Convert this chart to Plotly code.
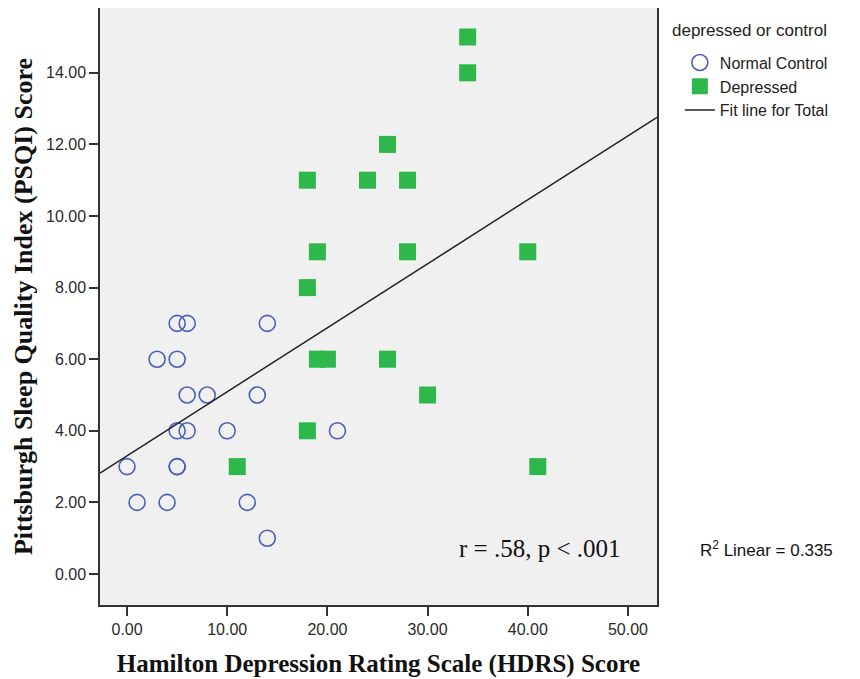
import numpy as np
import plotly.graph_objects as go

# ---- data ----
control_hdrs = [5, 6, 14, 3, 5, 6, 8, 13, 5, 6, 10, 21, 0, 5, 5, 1, 4, 12, 14]
control_psqi = [7, 7, 7, 6, 6, 5, 5, 5, 4, 4, 4, 4, 3, 3, 3, 2, 2, 2, 1]

depressed_hdrs = [34, 34, 26, 18, 24, 28, 19, 28, 40, 18, 19, 20, 26, 30, 18, 41, 11]
depressed_psqi = [15, 14, 12, 11, 11, 11, 9, 9, 9, 8, 6, 6, 6, 5, 4, 3, 3]

x_ticks = [0, 10, 20, 30, 40, 50]
y_ticks = [0, 2, 4, 6, 8, 10, 12, 14]

X_RANGE = [-2.7, 52.9]
Y_RANGE = [-0.866, 15.81]

# fit line for total
all_x = np.array(control_hdrs + depressed_hdrs, dtype=float)
all_y = np.array(control_psqi + depressed_psqi, dtype=float)
slope, intercept = np.polyfit(all_x, all_y, 1)
fit_x = np.array(X_RANGE)
fit_y = intercept + slope * fit_x

SANS = "Arial, Liberation Sans, sans-serif"
SERIF = "Times New Roman, Liberation Serif, serif"

fig = go.Figure()
fig.add_trace(go.Scatter(
    x=control_hdrs, y=control_psqi, mode="markers", name="Normal Control",
    marker=dict(symbol="circle-open", size=16, color="#4a60b8", line=dict(width=1.6)),
))
fig.add_trace(go.Scatter(
    x=depressed_hdrs, y=depressed_psqi, mode="markers", name="Depressed",
    marker=dict(symbol="square", size=17, color="#2eb84b", line=dict(width=0)),
))
fig.add_trace(go.Scatter(
    x=fit_x, y=fit_y, mode="lines", name="Fit line for Total",
    line=dict(color="#222222", width=1.5),
))

# the page body has an 8px default margin, so the figure is 8px smaller
fig.update_layout(
    width=852, height=671,
    margin=dict(l=92, r=203, t=0, b=74),
    paper_bgcolor="white",
    plot_bgcolor="#f0f0f0",
    showlegend=True,
    legend=dict(
        x=1.041, xanchor="left", y=0.937, yanchor="top",
        font=dict(family=SANS, size=16, color="#222222"),
        bgcolor="rgba(0,0,0,0)", tracegroupgap=0, itemwidth=30,
    ),
    xaxis=dict(
        range=X_RANGE, tickvals=x_ticks, tickformat=".2f", automargin=False,
        showgrid=False, zeroline=False,
        showline=True, mirror=True, linecolor="#333333", linewidth=1.5,
        ticks="outside", ticklen=9, tickwidth=1.5, tickcolor="#333333",
        tickfont=dict(family=SANS, size=16, color="#2a2a2a"),
        title=dict(text="Hamilton Depression Rating Scale (HDRS) Score",
                   font=dict(family=SERIF, size=25, color="#111111", weight="bold"),
                   standoff=18),
    ),
    yaxis=dict(
        range=Y_RANGE, tickvals=y_ticks, tickformat=".2f", automargin=False,
        showgrid=False, zeroline=False,
        showline=True, mirror=True, linecolor="#333333", linewidth=1.5,
        ticks="outside", ticklen=9, tickwidth=1.5, tickcolor="#333333",
        tickfont=dict(family=SANS, size=16, color="#2a2a2a"),
        title=dict(text="Pittsburgh Sleep Quality Index (PSQI) Score",
                   font=dict(family=SERIF, size=26, color="#111111", weight="bold"),
                   standoff=6),
    ),
    annotations=[
        dict(text="depressed or control", xref="paper", yref="paper",
             x=1.023, y=0.963, xanchor="left", yanchor="middle", showarrow=False,
             font=dict(family=SANS, size=17, color="#222222")),
        dict(text="r = .58, p < .001", xref="x", yref="y",
             x=41.2, y=0.7, xanchor="center", yanchor="middle", showarrow=False,
             font=dict(family=SERIF, size=25, color="#111111")),
        dict(text="R<sup>2</sup> Linear = 0.335", xref="paper", yref="paper",
             x=1.196, y=0.094, xanchor="center", yanchor="middle", showarrow=False,
             font=dict(family=SANS, size=17, color="#111111")),
    ],
)

fig.write_html("out.html")
